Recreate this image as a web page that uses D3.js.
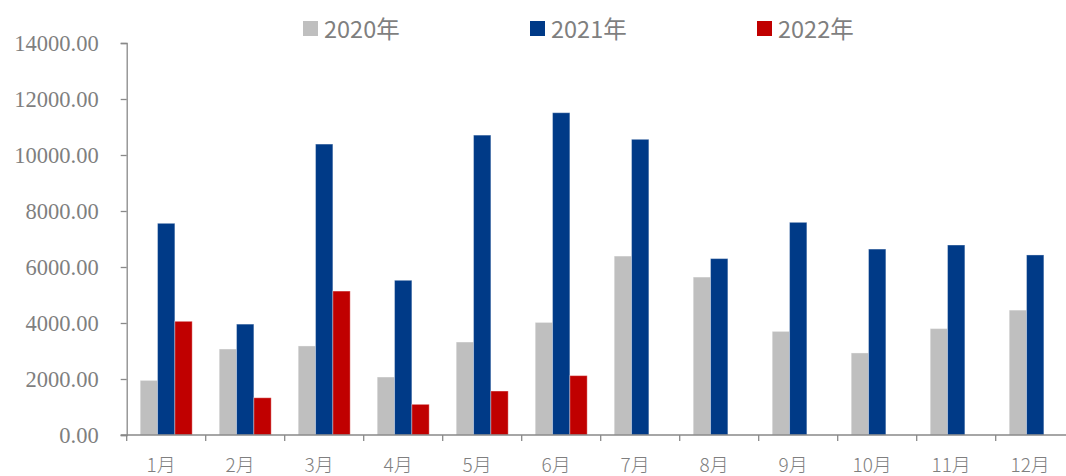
<!DOCTYPE html>
<html>
<head>
<meta charset="utf-8">
<script src="https://cdn.jsdelivr.net/npm/d3@7"></script>
<style>
  html, body { margin: 0; padding: 0; background: #fff; }
  svg { display: block; }
  .ylab text { font-family: "Liberation Serif", "DejaVu Serif", serif !important; font-size: 22.5px; }
</style>
</head>
<body>
<svg width="1066" height="476"></svg>
<script>
// data
var months = ['1月','2月','3月','4月','5月','6月','7月','8月','9月','10月','11月','12月'];
var series = ['2020年','2021年','2022年'];
var colors = ['#bfbfbf','#003a87','#c00000'];
var v2020 = [1950, 3070, 3180, 2070, 3320, 4020, 6390, 5640, 3700, 2930, 3800, 4460];
var v2021 = [7560, 3960, 10390, 5525, 10710, 11510, 10560, 6300, 7595, 6640, 6785, 6430];
var v2022 = [4060, 1330, 5140, 1095, 1570, 2120, null, null, null, null, null, null];
var yTicks = [0, 2000, 4000, 6000, 8000, 10000, 12000, 14000];

var values = [v2020, v2021, v2022];
var axisColor = '#898989';
var textColor = '#7f7f7f';

var svg = d3.select('svg');

var x0 = 126.7, step = 79;
var x = d3.scaleBand().domain(months).range([x0, x0 + step * months.length]).padding(0);
var xs = d3.scaleBand().domain(series).range([0, x.bandwidth()]).paddingInner(0).paddingOuter(0.78);
var y = d3.scaleLinear().domain([0, 14000]).range([435, 43]);

// bars
series.forEach(function(s, si) {
  var data = months.map(function(m, i) { return {m: m, v: values[si][i]}; })
                   .filter(function(d) { return d.v != null; });
  svg.append('g').selectAll('rect').data(data).enter().append('rect')
    .attr('x', function(d) { return x(d.m) + xs(s); })
    .attr('y', function(d) { return y(d.v); })
    .attr('width', xs.bandwidth())
    .attr('height', function(d) { return y(0) - y(d.v); })
    .attr('fill', colors[si])
    .attr('stroke', '#ffffff').attr('stroke-opacity', 0.35).attr('stroke-width', 1);
});

// y axis
var ya = svg.append('g').attr('class', 'ylab').attr('transform', 'translate(' + x0 + ',0)')
  .call(d3.axisLeft(y).tickValues(yTicks).tickFormat(d3.format('.2f')).tickSize(6).tickPadding(22));
ya.attr('font-family', null).attr('font-size', null);
ya.select('.domain').attr('stroke', axisColor).attr('stroke-width', 1.3);
ya.selectAll('.tick line').attr('stroke', axisColor).attr('stroke-width', 1.3);
ya.selectAll('.tick text').attr('fill', textColor);

// x axis
svg.append('line').attr('x1', x0 - 6).attr('x2', 1066).attr('y1', y(0)).attr('y2', y(0))
  .attr('stroke', axisColor).attr('stroke-width', 1.3);
svg.append('g').selectAll('line').data(months).enter().append('line')
  .attr('x1', function(d) { return x(d); }).attr('x2', function(d) { return x(d); })
  .attr('y1', y(0)).attr('y2', y(0) + 6)
  .attr('stroke', axisColor).attr('stroke-width', 1.3);
svg.append('g').selectAll('text').data(months).enter().append('text')
  .attr('x', function(d) { return x(d) + x.bandwidth() / 2 - 5; })
  .attr('y', 472)
  .attr('text-anchor', 'middle')
  .attr('fill', textColor)
  .style('font-family', '"Noto Sans CJK SC", sans-serif').style('font-weight', 300).style('font-size', '19px')
  .text(function(d) { return d; });

// legend
var legX = [303, 530, 757];
var leg = svg.append('g').selectAll('g').data(series).enter().append('g')
  .attr('transform', function(d, i) { return 'translate(' + legX[i] + ',0)'; });
leg.append('rect').attr('x', 0).attr('y', 21).attr('width', 15).attr('height', 15)
  .attr('fill', function(d, i) { return colors[i]; });
leg.append('text').attr('x', 21).attr('y', 37.5)
  .attr('fill', textColor)
  .style('font-family', '"Noto Sans CJK SC", sans-serif').style('font-size', '23.5px')
  .text(function(d) { return d; });
</script>
</body>
</html>
